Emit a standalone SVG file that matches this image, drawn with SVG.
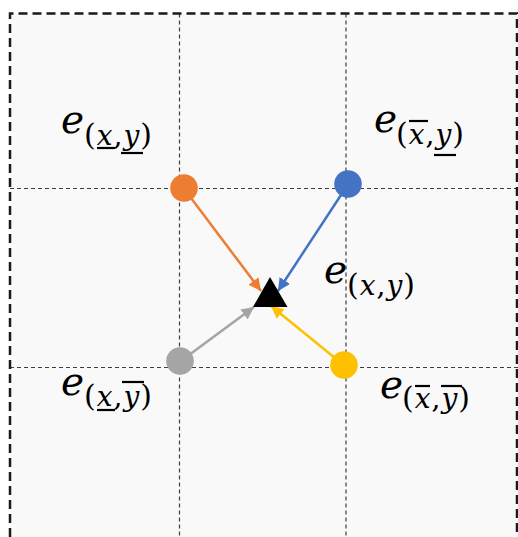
<svg xmlns="http://www.w3.org/2000/svg" width="518" height="537" viewBox="0 0 518 537">
<defs>
<style>
.grid{stroke:#404040;stroke-width:1.2;stroke-dasharray:4 3;fill:none}
.border{stroke:#1a1a1a;stroke-width:2.5;stroke-dasharray:9 5;fill:none}
.e{font-family:"DejaVu Serif",serif;font-style:italic;font-size:39px;fill:#000}
.s{font-family:"DejaVu Serif",serif;font-size:28px;fill:#000;letter-spacing:1px}
.p{font-size:30px}
.i{font-style:italic}
.bar{stroke:#000;stroke-width:2.2}
.conn{stroke-width:2.5;fill:none}
</style>
<marker id="mo" viewBox="0 0 10 10" refX="10" refY="5" markerWidth="5" markerHeight="5" orient="auto" markerUnits="strokeWidth"><path d="M0,0 L10,5 L0,10 z" fill="#ED7D31"/></marker>
<marker id="mb" viewBox="0 0 10 10" refX="10" refY="5" markerWidth="5" markerHeight="5" orient="auto" markerUnits="strokeWidth"><path d="M0,0 L10,5 L0,10 z" fill="#4472C4"/></marker>
<marker id="mg" viewBox="0 0 10 10" refX="10" refY="5" markerWidth="5" markerHeight="5" orient="auto" markerUnits="strokeWidth"><path d="M0,0 L10,5 L0,10 z" fill="#A5A5A5"/></marker>
<marker id="my" viewBox="0 0 10 10" refX="10" refY="5" markerWidth="5" markerHeight="5" orient="auto" markerUnits="strokeWidth"><path d="M0,0 L10,5 L0,10 z" fill="#FFC000"/></marker>
</defs>
<rect x="10" y="13.5" width="520" height="530" fill="#f9f9f9"/>
<g id="grid">
<line class="grid" x1="179.5" y1="13.5" x2="179.5" y2="537"/>
<line class="grid" x1="346" y1="13.5" x2="346" y2="537"/>
<line class="grid" x1="10" y1="188.5" x2="518" y2="188.5"/>
<line class="grid" x1="10" y1="367.5" x2="518" y2="367.5"/>
<path class="border" d="M10,537 V13.5 H517 V537"/>
</g>
<g id="connectors">
<line class="conn" stroke="#ED7D31" x1="191" y1="198" x2="261" y2="291" marker-end="url(#mo)"/>
<line class="conn" stroke="#4472C4" x1="341" y1="195" x2="278" y2="291" marker-end="url(#mb)"/>
<line class="conn" stroke="#A5A5A5" x1="189" y1="355" x2="254" y2="307" marker-end="url(#mg)"/>
<line class="conn" stroke="#FFC000" x1="335" y1="358" x2="271" y2="306" marker-end="url(#my)"/>
</g>
<g id="node-tl"><circle cx="184" cy="188" r="13.8" fill="#ED7D31"/></g>
<g id="node-tr"><circle cx="348" cy="184" r="13.8" fill="#4472C4"/></g>
<g id="node-bl"><circle cx="180" cy="361" r="13.8" fill="#A5A5A5"/></g>
<g id="node-br"><circle cx="344" cy="365" r="13.8" fill="#FFC000"/></g>
<g id="target"><polygon points="270,277 253,307 287.5,307" fill="#000"/></g>
<g id="label-tl">
<text class="e" x="61" y="133">e</text>
<text class="s" x="84" y="145"><tspan class="p">(</tspan><tspan class="i">x</tspan>,<tspan class="i">y</tspan><tspan class="p">)</tspan></text>
<line class="bar" x1="97" y1="148" x2="115" y2="148"/>
<line class="bar" x1="121" y1="153" x2="143" y2="153"/>
</g>
<g id="label-tr">
<text class="e" x="374" y="132">e</text>
<text class="s" x="396" y="144"><tspan class="p">(</tspan><tspan class="i">x</tspan>,<tspan class="i">y</tspan><tspan class="p">)</tspan></text>
<line class="bar" x1="409" y1="121" x2="428" y2="121"/>
<line class="bar" x1="434" y1="155" x2="456" y2="155"/>
</g>
<g id="label-c">
<text class="e" x="324" y="283">e</text>
<text class="s" x="347" y="295"><tspan class="p">(</tspan><tspan class="i">x</tspan>,<tspan class="i">y</tspan><tspan class="p">)</tspan></text>
</g>
<g id="label-bl">
<text class="e" x="61" y="395">e</text>
<text class="s" x="84" y="406"><tspan class="p">(</tspan><tspan class="i">x</tspan>,<tspan class="i">y</tspan><tspan class="p">)</tspan></text>
<line class="bar" x1="97" y1="410" x2="115" y2="410"/>
<line class="bar" x1="122" y1="382" x2="144" y2="382"/>
</g>
<g id="label-br">
<text class="e" x="380" y="398">e</text>
<text class="s" x="402" y="408"><tspan class="p">(</tspan><tspan class="i">x</tspan>,<tspan class="i">y</tspan><tspan class="p">)</tspan></text>
<line class="bar" x1="415" y1="386" x2="430" y2="386"/>
<line class="bar" x1="441" y1="386" x2="462" y2="386"/>
</g>
</svg>
